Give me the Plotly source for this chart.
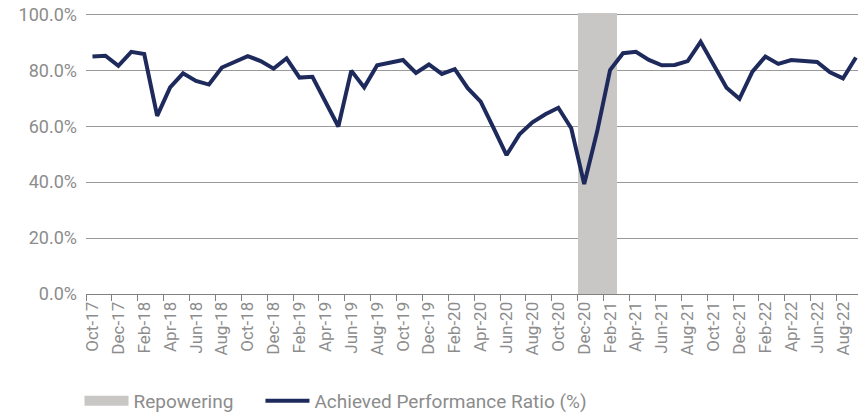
import plotly.graph_objects as go

# months Oct-17 .. Sep-22
month_names = ['Jan', 'Feb', 'Mar', 'Apr', 'May', 'Jun', 'Jul', 'Aug', 'Sep', 'Oct', 'Nov', 'Dec']
months = []
for yr in range(17, 23):
    for m in month_names:
        months.append(f'{m}-{yr}')
months = months[months.index('Oct-17'):months.index('Sep-22') + 1]

performance_ratio = [
    84.9, 85.2, 81.6, 86.6, 85.8, 63.7, 73.9, 78.9, 76.2, 74.9,
    81.0, 83.0, 85.1, 83.3, 80.6, 84.3, 77.4, 77.7, 68.8, 59.9,
    79.9, 73.9, 81.8, 82.7, 83.7, 79.1, 82.1, 78.7, 80.4, 73.6,
    68.8, 59.3, 49.7, 57.1, 61.4, 64.3, 66.6, 59.3, 39.3, 58.1,
    80.1, 86.1, 86.6, 83.7, 81.8, 81.9, 83.3, 90.2, 82.3, 73.8,
    69.8, 79.5, 84.9, 82.3, 83.7, 83.3, 83.0, 79.3, 77.1, 84.6,
]

repowering_months = ['Dec-20', 'Jan-21', 'Feb-21']
repowering_values = [100.5, 100.5, 100.5]

GREY_TEXT = '#8c8c8c'
NAVY = '#1f2a5c'
BAR_GREY = '#c9c6c6'

fig = go.Figure()

fig.add_trace(go.Bar(x=repowering_months, y=repowering_values, name='Repowering',
                     marker_color=BAR_GREY, marker_line_width=0, width=1,
                     showlegend=False, hoverinfo='skip'))
# legend entry drawn as a wide grey swatch
fig.add_trace(go.Scatter(x=[None], y=[None], mode='lines', name='Repowering',
                         line=dict(color=BAR_GREY, width=13), legend='legend'))

fig.add_trace(go.Scatter(x=months, y=performance_ratio, mode='lines',
                         name='Achieved Performance Ratio (%)',
                         line=dict(color=NAVY, width=4), legend='legend2'))

legend_style = dict(orientation='h', xanchor='left', y=-0.38, yanchor='middle',
                    itemwidth=44, font=dict(size=19, color=GREY_TEXT))
fig.update_layout(
    width=858, height=415,
    margin=dict(l=86, r=0, t=13, b=121, autoexpand=False),
    plot_bgcolor='white', paper_bgcolor='white',
    font=dict(family='Roboto', size=17, color=GREY_TEXT),
    bargap=0,
    legend=dict(x=-0.0084, **legend_style),
    legend2=dict(x=0.226, **legend_style),
)

fig.update_xaxes(
    type='category', categoryorder='array', categoryarray=months,
    range=[-0.5, 59.16], automargin=False,
    tickmode='linear', tick0=0, dtick=2, tickson='boundaries',
    tickangle=-90, ticks='outside', ticklen=6, tickcolor='#808080',
    showline=True, linecolor='#808080', linewidth=1,
    showgrid=False, ticklabeloverflow='allow',
)

fig.update_yaxes(
    range=[0, 100.5], tickmode='linear', tick0=0, dtick=20,
    tickformat='.1f', ticksuffix='%', automargin=False,
    showgrid=True, gridcolor='#9a9a9a', gridwidth=1,
    zeroline=False, showline=False, ticks='', ticklabelstandoff=8,
    tickfont=dict(size=18), ticklabeloverflow='allow',
)

# drop the page's default body margin so the figure sits at the window origin
fig.write_html('out.html', config={'displayModeBar': False},
               post_script="document.body.style.margin='0';")
